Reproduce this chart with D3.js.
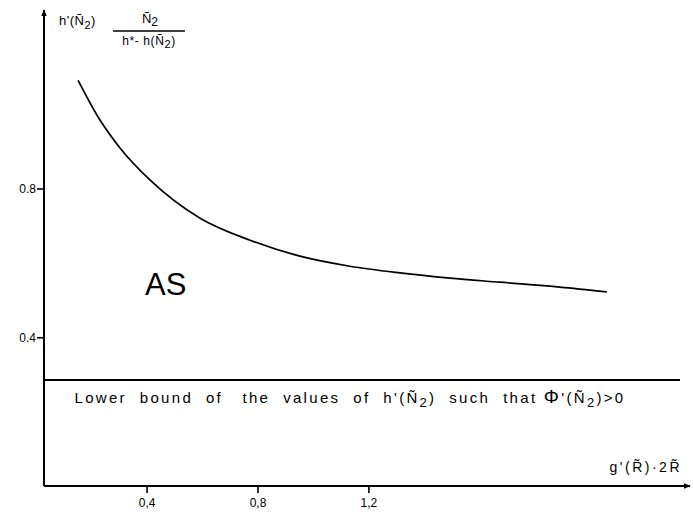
<!DOCTYPE html>
<html>
<head>
<meta charset="utf-8">
<script src="https://cdn.jsdelivr.net/npm/d3@7"></script>
<style>
  body { margin: 0; background: white; }
  text { font-family: "Liberation Sans", Arial, sans-serif; fill: black; white-space: pre; }
</style>
</head>
<body>
<svg id="chart"></svg>
<script>
// data
const curveX = [0.153, 0.232, 0.304, 0.412, 0.593, 0.773, 0.953, 1.133, 1.314, 1.494, 1.674, 1.891, 2.060];
const curveY = [1.091, 0.984, 0.909, 0.823, 0.720, 0.661, 0.618, 0.591, 0.573, 0.559, 0.548, 0.535, 0.522];
const lowerBound = 0.285;
const xTicks = [0.4, 0.8, 1.2];
const yTicks = [0.4, 0.8];

const width = 693;
const height = 512;

const svg = d3.select("#chart")
  .attr("width", width)
  .attr("height", height);

// scales
const x = d3.scaleLinear().domain([0.03, 2.36]).range([44, 690]);
const y = d3.scaleLinear().domain([0, 1.28]).range([486, 10]);

// arrow head
svg.append("defs").append("marker")
  .attr("id", "arrow")
  .attr("viewBox", "0 0 10 10")
  .attr("refX", 9)
  .attr("refY", 5)
  .attr("markerWidth", 7)
  .attr("markerHeight", 7)
  .attr("markerUnits", "userSpaceOnUse")
  .attr("orient", "auto")
  .append("path")
  .attr("d", "M0,1 L10,5 L0,9 Z")
  .attr("fill", "black");

// x axis
const xAxis = svg.append("g")
  .attr("transform", `translate(0,${y(0)})`)
  .call(d3.axisBottom(x).tickValues(xTicks).tickSize(7).tickFormat(d => d3.format(".1f")(d).replace(".", ",")));
xAxis.select(".domain").remove();
xAxis.selectAll("line").attr("stroke-width", 1.6);
xAxis.selectAll("text").attr("font-size", 12).attr("dy", "0.9em").style("font-family", "Liberation Sans, Arial, sans-serif");

svg.append("line")
  .attr("x1", x.range()[0]).attr("x2", x.range()[1])
  .attr("y1", y(0)).attr("y2", y(0))
  .attr("stroke", "black").attr("stroke-width", 2)
  .attr("marker-end", "url(#arrow)");

// y axis
const yAxis = svg.append("g")
  .attr("transform", `translate(${x.range()[0]},0)`)
  .call(d3.axisLeft(y).tickValues(yTicks).tickSize(7).tickFormat(d3.format(".1f")));
yAxis.select(".domain").remove();
yAxis.selectAll("line").attr("stroke-width", 1.6);
yAxis.selectAll("text").attr("font-size", 12).attr("x", -8).style("font-family", "Liberation Sans, Arial, sans-serif");

svg.append("line")
  .attr("x1", x.range()[0]).attr("x2", x.range()[0])
  .attr("y1", y(0)).attr("y2", y.range()[1])
  .attr("stroke", "black").attr("stroke-width", 2)
  .attr("marker-end", "url(#arrow)");

// the curve
const pts = curveX.map((v, i) => [v, curveY[i]]);
const line = d3.line()
  .x(d => x(d[0]))
  .y(d => y(d[1]))
  .curve(d3.curveMonotoneX);

svg.append("path")
  .datum(pts)
  .attr("d", line)
  .attr("fill", "none")
  .attr("stroke", "black")
  .attr("stroke-width", 1.7);

// lower bound line
svg.append("line")
  .attr("x1", x.range()[0]).attr("x2", 680)
  .attr("y1", y(lowerBound)).attr("y2", y(lowerBound))
  .attr("stroke", "black").attr("stroke-width", 2);

const lb = svg.append("text")
  .attr("x", 350)
  .attr("y", y(lowerBound) + 23)
  .attr("text-anchor", "middle")
  .attr("font-size", 15)
  .attr("letter-spacing", 2.3);
lb.append("tspan").text("Lower  bound  of   the  values  of  h'(Ñ");
lb.append("tspan").attr("dy", 4).attr("font-size", 13).text("2");
lb.append("tspan").attr("dy", -4).text(")  such  that ");
lb.append("tspan").attr("font-size", 19).text("Φ");
lb.append("tspan").text("'(Ñ");
lb.append("tspan").attr("dy", 4).attr("font-size", 13).text("2");
lb.append("tspan").attr("dy", -4).text(")>0");

// region label
svg.append("text")
  .attr("x", 145)
  .attr("y", 295)
  .attr("font-size", 31)
  .text("AS");

// y axis title: h'(N2) * N2 / (h* - h(N2))
const yt = svg.append("text")
  .attr("x", 59)
  .attr("y", 25)
  .attr("font-size", 13)
  .attr("letter-spacing", 0.5);
yt.append("tspan").text("h'(Ñ");
yt.append("tspan").attr("dy", 4).attr("font-size", 11).text("2");
yt.append("tspan").attr("dy", -4).text(")");

const num = svg.append("text")
  .attr("x", 150)
  .attr("y", 23)
  .attr("text-anchor", "middle")
  .attr("font-size", 13);
num.append("tspan").text("Ñ");
num.append("tspan").attr("dy", 3).attr("font-size", 12).text("2");

svg.append("line")
  .attr("x1", 113).attr("x2", 185)
  .attr("y1", 31).attr("y2", 31)
  .attr("stroke", "black").attr("stroke-width", 1.5);

const den = svg.append("text")
  .attr("x", 149)
  .attr("y", 45)
  .attr("text-anchor", "middle")
  .attr("font-size", 12)
  .attr("letter-spacing", 0.6);
den.append("tspan").text("h*- h(Ñ");
den.append("tspan").attr("dy", 3).attr("font-size", 11).text("2");
den.append("tspan").attr("dy", -3).text(")");

// x axis title
svg.append("text")
  .attr("x", 682)
  .attr("y", 472)
  .attr("text-anchor", "end")
  .attr("font-size", 14)
  .attr("letter-spacing", 2.5)
  .text("g'(R\u0303)·2R\u0303");
</script>
</body>
</html>
